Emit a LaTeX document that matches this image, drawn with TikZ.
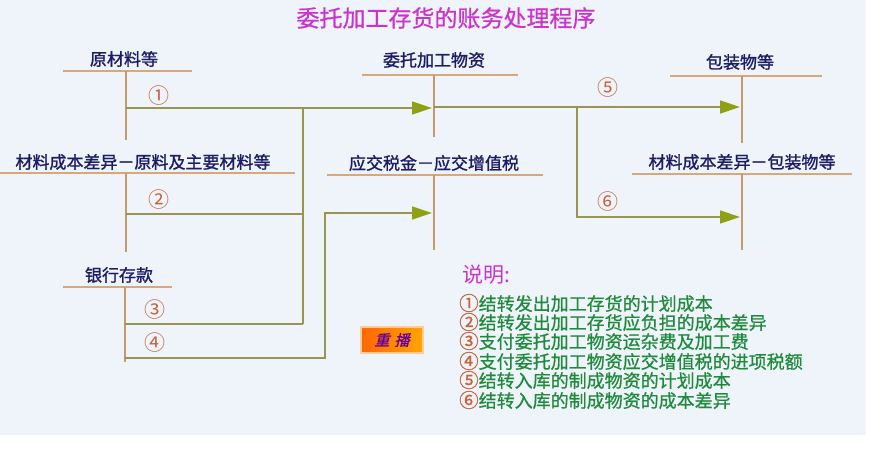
\documentclass[tikz,border=0pt]{standalone}
\usepackage{fontspec}
\setmainfont{Noto Sans CJK SC}
\newfontfamily\semib[FakeBold=1.3]{Noto Sans CJK SC}
\newfontfamily\semia[FakeBold=0.8]{Noto Sans CJK SC}
\newfontfamily\slantf[FakeBold=1.2,FakeSlant=0.25]{Noto Sans CJK SC}
\usetikzlibrary{arrows.meta}
\definecolor{bg}{HTML}{EEF4FA}
\definecolor{navy}{HTML}{1C1C66}
\definecolor{tline}{HTML}{D9A878}
\definecolor{tvert}{HTML}{C49A6A}
\definecolor{conn}{HTML}{9A9452}
\definecolor{tip}{HTML}{8FA014}
\definecolor{numc}{HTML}{C8603A}
\definecolor{mag}{HTML}{CC33CC}
\definecolor{grn}{HTML}{1F8A3C}
\tikzset{
  acct/.style={text=navy,font=\semib\fontsize{17}{17}\selectfont,inner sep=0pt,anchor=center},
  hline/.style={draw=tline,line width=1.6pt},
  vline/.style={draw=tvert,line width=1.3pt},
  flow/.style={draw=conn,line width=1.3pt},
  flowarr/.style={flow,-{Triangle[length=20pt,width=13pt,fill=tip,color=tip]}},
  numlab/.style={text=numc,font=\fontsize{21}{21}\selectfont,inner sep=0pt},
  note/.style={text=grn,font=\semia\fontsize{18}{18}\selectfont,inner sep=0pt,anchor=west},
}
\newcommand{\cnum}[1]{\textcolor{numc}{\fontsize{19.5}{18}\selectfont #1}}
\begin{document}
\begin{tikzpicture}[x=1pt,y=-1pt]
\useasboundingbox (0,0) rectangle (870,449);
\fill[white] (0,0) rectangle (870,449);
\fill[bg] (0,0) rectangle (866,435);
% title
\node[text=mag,font=\semia\fontsize{23}{23}\selectfont,inner sep=0pt] (title) at (446,18) {委托加工存货的账务处理程序};
% accounts: left
\node[acct] (a1) at (124,59) {原材料等};
\coordinate (a1l) at (63,71); \coordinate (a1r) at (192,71);
\coordinate (a1t) at (126,71); \coordinate (a1b) at (126,140);
\node[acct] (a2) at (143,162) {材料成本差异－原料及主要材料等};
\coordinate (a2l) at (0,173); \coordinate (a2r) at (295,173);
\coordinate (a2t) at (126,173); \coordinate (a2b) at (126,252);
\node[acct] (a3) at (119,275) {银行存款};
\coordinate (a3l) at (63,287); \coordinate (a3r) at (172,287);
\coordinate (a3t) at (125,287); \coordinate (a3b) at (125,362);
% middle
\node[acct] (b1) at (434,60) {委托加工物资};
\coordinate (b1l) at (362,75); \coordinate (b1r) at (518,75);
\coordinate (b1t) at (434,75); \coordinate (b1b) at (434,137);
\node[acct] (b2) at (434,163) {应交税金－应交增值税};
\coordinate (b2l) at (327,175); \coordinate (b2r) at (543,175);
\coordinate (b2t) at (434,175); \coordinate (b2b) at (434,250);
% right
\node[acct] (c1) at (740,62) {包装物等};
\coordinate (c1l) at (670,76); \coordinate (c1r) at (822,76);
\coordinate (c1t) at (742,76); \coordinate (c1b) at (742,143);
\node[acct] (c2) at (742,162) {材料成本差异－包装物等};
\coordinate (c2l) at (632,174); \coordinate (c2r) at (852,174);
\coordinate (c2t) at (742,174); \coordinate (c2b) at (742,250);
% T lines
\foreach \n in {a1,a2,a3,b1,b2,c1,c2}{
  \draw[hline] (\n l) -- (\n r);
  \draw[vline] (\n t) -- (\n b);
}
% flows
\coordinate (s1) at (126,108); \coordinate (j1) at (303,108); \coordinate (e1) at (432,108);
\coordinate (s2) at (126,214); \coordinate (j2) at (303,214);
\coordinate (s3) at (125,324); \coordinate (j3) at (303,324);
\coordinate (s4) at (125,358); \coordinate (k4) at (325,358); \coordinate (k4t) at (325,213); \coordinate (e4) at (432,213);
\coordinate (s5) at (434,107); \coordinate (j5) at (577,107); \coordinate (e5) at (740,107);
\coordinate (j6) at (577,217); \coordinate (e6) at (740,217);
\draw[flowarr] (s1) -- (e1);
\draw[flow] (j1) -- (j3);
\draw[flow] (s2) -- (j2);
\draw[flow] (s3) -- (j3);
\draw[flowarr] (s4) -- (k4) -- (k4t) -- (e4);
\draw[flowarr] (s5) -- (e5);
\draw[flowarr] (j5) -- (j6) -- (e6);
% numbers
\node[numlab] (n1) at (159,96) {①};
\node[numlab] (n2) at (159,200) {②};
\node[numlab] (n3) at (155,310) {③};
\node[numlab] (n4) at (155,343) {④};
\node[numlab] (n5) at (608,88) {⑤};
\node[numlab] (n6) at (608,202) {⑥};
% replay button
\node[draw=orange!40!white,line width=1.5pt,left color=orange!80!red,right color=orange!70!yellow,
  minimum width=62pt,minimum height=26pt,inner sep=0pt,
  text=violet!80!blue,font=\slantf\fontsize{15}{15}\selectfont] (btn) at (392,340) {重\,\,播};
% notes
\node[text=mag,font=\fontsize{21}{21}\selectfont,inner sep=0pt,anchor=west] (sm) at (462,275) {说明:};
\node[note] (l1) at (459,303) {\cnum{①}结转发出加工存货的计划成本};
\node[note] (l2) at (459,322) {\cnum{②}结转发出加工存货应负担的成本差异};
\node[note] (l3) at (459,341) {\cnum{③}支付委托加工物资运杂费及加工费};
\node[note] (l4) at (459,361) {\cnum{④}支付委托加工物资应交增值税的进项税额};
\node[note] (l5) at (459,380) {\cnum{⑤}结转入库的制成物资的计划成本};
\node[note] (l6) at (459,400) {\cnum{⑥}结转入库的制成物资的成本差异};
\end{tikzpicture}
\end{document}
